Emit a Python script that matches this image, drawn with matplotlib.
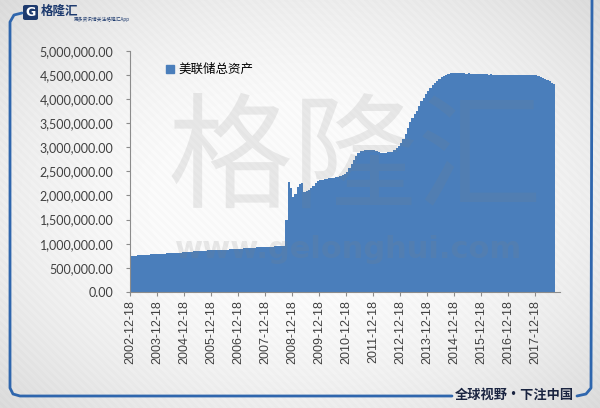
import numpy as np
import matplotlib.pyplot as plt
from matplotlib.patches import Patch, FancyBboxPatch
from matplotlib.lines import Line2D
from matplotlib.ticker import FuncFormatter

W, H = 600, 408

# 美联储总资产, 月度, 2002-12 起
y2002 = [746]
y2003 = [750, 755, 760, 766, 768, 770, 772, 775, 778, 781, 784, 787]
y2004 = [790, 793, 796, 799, 802, 805, 808, 811, 813, 816, 820, 825]
y2005 = [829, 833, 837, 841, 845, 849, 853, 856, 858, 860, 862, 864]
y2006 = [866, 868, 869, 870, 873, 876, 879, 882, 885, 888, 891, 894]
y2007 = [898, 902, 906, 910, 914, 918, 920, 923, 926, 929, 932, 935]
y2008 = [937, 940, 942, 944, 946, 948, 950, 953, 1500, 2280, 2150, 1970]
y2009 = [2030, 2180, 2240, 2250, 2080, 2100, 2120, 2160, 2200, 2260, 2300, 2320]
y2010 = [2330, 2340, 2350, 2360, 2365, 2370, 2380, 2390, 2400, 2420, 2450, 2490]
y2011 = [2560, 2650, 2730, 2820, 2880, 2920, 2930, 2940, 2935, 2940, 2945, 2940]
y2012 = [2930, 2900, 2870, 2870, 2880, 2900, 2910, 2910, 2940, 2980, 3030, 3090]
y2013 = [3170, 3270, 3400, 3520, 3600, 3680, 3760, 3850, 3950, 4030, 4100, 4170]
y2014 = [4230, 4290, 4340, 4380, 4420, 4450, 4475, 4500, 4515, 4530, 4535, 4540]
y2015 = [4540, 4535, 4530, 4530, 4525, 4530, 4525, 4520, 4515, 4520, 4515, 4510]
y2016 = [4515, 4510, 4505, 4510, 4505, 4500, 4505, 4500, 4505, 4500, 4495, 4500]
y2017 = [4500, 4505, 4500, 4500, 4495, 4500, 4500, 4495, 4495, 4500, 4495, 4490]
y2018 = [4480, 4460, 4440, 4420, 4400, 4370, 4340, 4300]

assets = np.array(y2002 + y2003 + y2004 + y2005 + y2006 + y2007 + y2008 + y2009
                  + y2010 + y2011 + y2012 + y2013 + y2014 + y2015 + y2016
                  + y2017 + y2018) * 1000.0

tick_labels = ['2002-12-18', '2003-12-18', '2004-12-18', '2005-12-18',
               '2006-12-18', '2007-12-18', '2008-12-18', '2009-12-18',
               '2010-12-18', '2011-12-18', '2012-12-18', '2013-12-18',
               '2014-12-18', '2015-12-18', '2016-12-18', '2017-12-18']
tick_pos = np.arange(len(tick_labels)) * 12

legend_label = '美联储总资产'
blue = '#4a7ebb'
frame_blue = '#2f66ad'
cjk = ['Noto Sans CJK SC', 'DejaVu Sans']


def fx(x):
    return x / W


def fy(y):
    return 1 - y / H


fig = plt.figure(figsize=(6, 4.08), dpi=100)

# 背景: 浅灰渐变 + 斜纹
bg = fig.add_axes([0, 0, 1, 1], zorder=-5)
yy, xx = np.mgrid[0:H, 0:W]
r2 = ((xx - W / 2) / (W / 2)) ** 2 + ((yy - H / 2) / (H / 2)) ** 2
shade = 0.985 - 0.07 * np.clip(r2 - 0.25, 0, None)
shade = shade - 0.012 * (((xx + H - yy) // 4) % 2)
img = np.dstack([shade, shade, shade])
bg.imshow(np.clip(img, 0, 1), extent=[0, W, H, 0], aspect='auto')
bg.set_xlim(0, W)
bg.set_ylim(H, 0)
bg.axis('off')

# 蓝色边框
frame_left = [(22, 13), (14, 15), (10, 22), (10, 388), (13, 394), (20, 396), (452, 396)]
frame_right = [(577, 396), (586, 394), (591, 388), (592, 0)]
for pts in (frame_left, frame_right):
    fig.add_artist(Line2D([fx(p[0]) for p in pts], [fy(p[1]) for p in pts],
                          color=frame_blue, lw=2, solid_capstyle='round'))

# 主图
ax = fig.add_axes([fx(130), fy(292), (560 - 130) / W, (292 - 50.7) / H])
ax.patch.set_alpha(0)
edges = np.arange(len(assets) + 1)
ax.stairs(assets, edges, fill=True, color=blue, linewidth=0)

ax.set_xlim(0, 191.1)
ax.set_ylim(0, 5000000)
ax.set_yticks(np.arange(0, 5000001, 500000))
ax.yaxis.set_major_formatter(FuncFormatter(lambda v, p: f'{v:,.2f}'))
ax.set_xticks(tick_pos)
ax.set_xticklabels(tick_labels, rotation=90, family='Liberation Sans', fontsize=9)
for lab in ax.get_yticklabels():
    lab.set_family('Lato')
    lab.set_fontsize(9)

for s in ['top', 'right']:
    ax.spines[s].set_visible(False)
for s in ['left', 'bottom']:
    ax.spines[s].set_color('#8c8c8c')
    ax.spines[s].set_linewidth(0.8)
ax.tick_params(axis='y', direction='out', length=3, pad=9, color='#8c8c8c',
               labelcolor='#404040')
ax.tick_params(axis='x', direction='out', length=3, pad=3, color='#8c8c8c',
               labelcolor='#404040')

ax.legend(handles=[Patch(color=blue)], labels=[legend_label], loc='upper left',
          bbox_to_anchor=(fx(155), fy(52)), bbox_transform=fig.transFigure,
          frameon=False, handlelength=0.6, handleheight=0.6, handletextpad=0.4,
          prop={'family': cjk, 'size': 9})

# 水印
fig.text(fx(355), fy(163), '格隆汇', fontsize=90, family=cjk, weight='light',
         color='#7f7f7f', alpha=0.15, ha='center', va='center', zorder=10)
fig.text(fx(348), fy(250), 'www.gelonghui.com', fontsize=22, weight='bold',
         family='DejaVu Sans', color='#7f7f7f', alpha=0.16, ha='center',
         va='center', zorder=10)

# 左上角 logo
fig.add_artist(FancyBboxPatch((fx(23), fy(20)), fx(15), 15 / H,
                              boxstyle='round,pad=0,rounding_size=0.004',
                              fc='#1d3a6e', ec='none'))
fig.text(fx(30.5), fy(12.5), 'G', fontsize=9, weight='bold', color='white',
         ha='center', va='center')
fig.text(fx(41), fy(11), '格隆汇', fontsize=9, weight='bold', family=cjk,
         color='#1d3a6e', ha='left', va='center')
fig.text(fx(74), fy(19.5), '更多资讯请关注格隆汇App', fontsize=3.4, family=cjk,
         color='#1d3a6e', ha='left', va='center')

# 右下角标语
fig.text(fx(514), fy(395), '全球视野・下注中国', fontsize=9.5, weight='bold',
         family=cjk, color='#1a2440', ha='center', va='center')

fig.savefig('out.png', dpi=100)
